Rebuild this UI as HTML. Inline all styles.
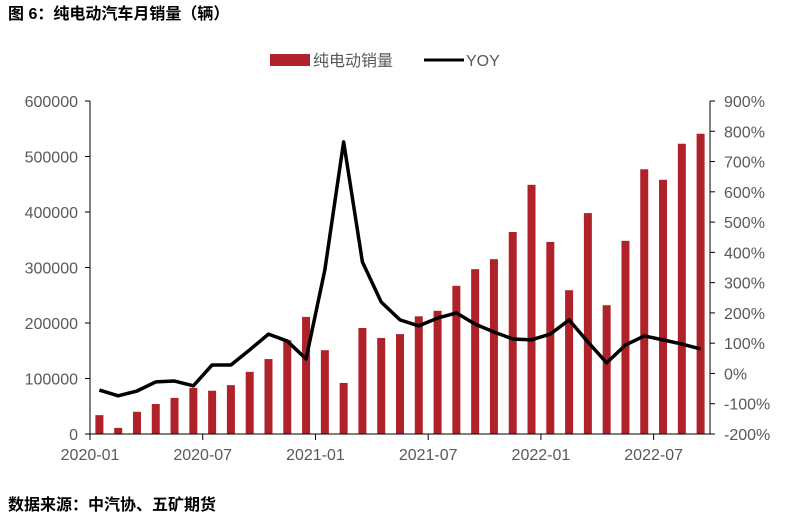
<!DOCTYPE html>
<html><head><meta charset="utf-8"><style>
body{margin:0;background:#fff;width:790px;height:522px;overflow:hidden;font-family:"Liberation Sans","Noto Sans CJK SC",sans-serif;}
</style></head><body>
<svg id="chart" width="790" height="522" xmlns="http://www.w3.org/2000/svg" font-family="Liberation Sans, Noto Sans CJK SC, sans-serif">
<text x="8" y="19" font-size="16" font-weight="bold" fill="#000">图 6：纯电动汽车月销量（辆）</text>
<g>
<rect x="270" y="54" width="40" height="12" fill="#B0222A"/>
<text x="313" y="66" font-size="16" fill="#595959">纯电动销量</text>
<line x1="424" y1="60" x2="464" y2="60" stroke="#000" stroke-width="3"/>
<text x="466" y="66" font-size="16" fill="#595959">YOY</text>
</g>
<g id="plot"></g>
<text x="8" y="510" font-size="16" font-weight="bold" fill="#000">数据来源：中汽协、五矿期货</text>
</svg>
<script>
const categories=["2020-01","2020-02","2020-03","2020-04","2020-05","2020-06","2020-07","2020-08","2020-09","2020-10","2020-11","2020-12","2021-01","2021-02","2021-03","2021-04","2021-05","2021-06","2021-07","2021-08","2021-09","2021-10","2021-11","2021-12","2022-01","2022-02","2022-03","2022-04","2022-05","2022-06","2022-07","2022-08","2022-09"];
const sales=[34000,11000,40000,54000,65000,83000,78000,88000,112000,135000,169000,211000,151000,92000,191000,173000,180000,212000,222000,267000,297000,315000,364000,449000,346000,259000,398000,232000,348000,477000,458000,523000,541000];
const yoy=[-55,-74,-58,-28,-25,-41,28,28,78,130,107,48,342,765,368,236,177,157,183,200,163,137,114,111,130,177,104,35,94,124,111,97,81];
const leftTicks=[0,100000,200000,300000,400000,500000,600000];
const rightTicks=[-200,-100,0,100,200,300,400,500,600,700,800,900];
const xLabels=["2020-01","2020-07","2021-01","2021-07","2022-01","2022-07"];
const NS="http://www.w3.org/2000/svg";
const L=90,R=710,T=101,B=434;
const bw=(R-L)/categories.length;
const yL=v=>B-(v-0)/600000*(B-T);
const yR=v=>B-(v+200)/1100*(B-T);
const xC=i=>L+bw*(i+0.5);
const g=document.getElementById('plot');
function mk(tag,a){const e=document.createElementNS(NS,tag);for(const k in a)e.setAttribute(k,a[k]);g.appendChild(e);return e;}
sales.forEach((v,i)=>{
 const r=mk('rect',{x:xC(i)-4,y:yL(v),width:8,height:B-yL(v),fill:'#B0222A'});
 
 
});
const ln=mk('polyline',{points:yoy.map((v,i)=>xC(i)+','+yR(v)).join(' '),fill:'none',stroke:'#000','stroke-width':3.5,'stroke-linejoin':'round'});


const ax=mk('path',{d:`M${L},${T}V${B}H${R}V${T}`,fill:'none',stroke:'#000','stroke-width':1});


leftTicks.forEach(v=>{
 mk('line',{x1:L-5,x2:L,y1:yL(v),y2:yL(v),stroke:'#000'});
 const t=mk('text',{x:L-12,y:yL(v)+6,'text-anchor':'end','font-size':16,fill:'#595959'});
 t.textContent=v;
 
 
});
rightTicks.forEach(v=>{
 mk('line',{x1:R,x2:R+5,y1:yR(v),y2:yR(v),stroke:'#000'});
 const t=mk('text',{x:R+14,y:yR(v)+6,'font-size':16,fill:'#595959'});
 t.textContent=v+'%';
 
 
});
xLabels.forEach(lab=>{
 const i=categories.indexOf(lab);const x=L+bw*i;
 mk('line',{x1:x,x2:x,y1:B,y2:B+6,stroke:'#000'});
 const t=mk('text',{x:x,y:B+26,'text-anchor':'middle','font-size':16,fill:'#595959'});
 t.textContent=lab;
 
 
});
</script>
</body></html>
